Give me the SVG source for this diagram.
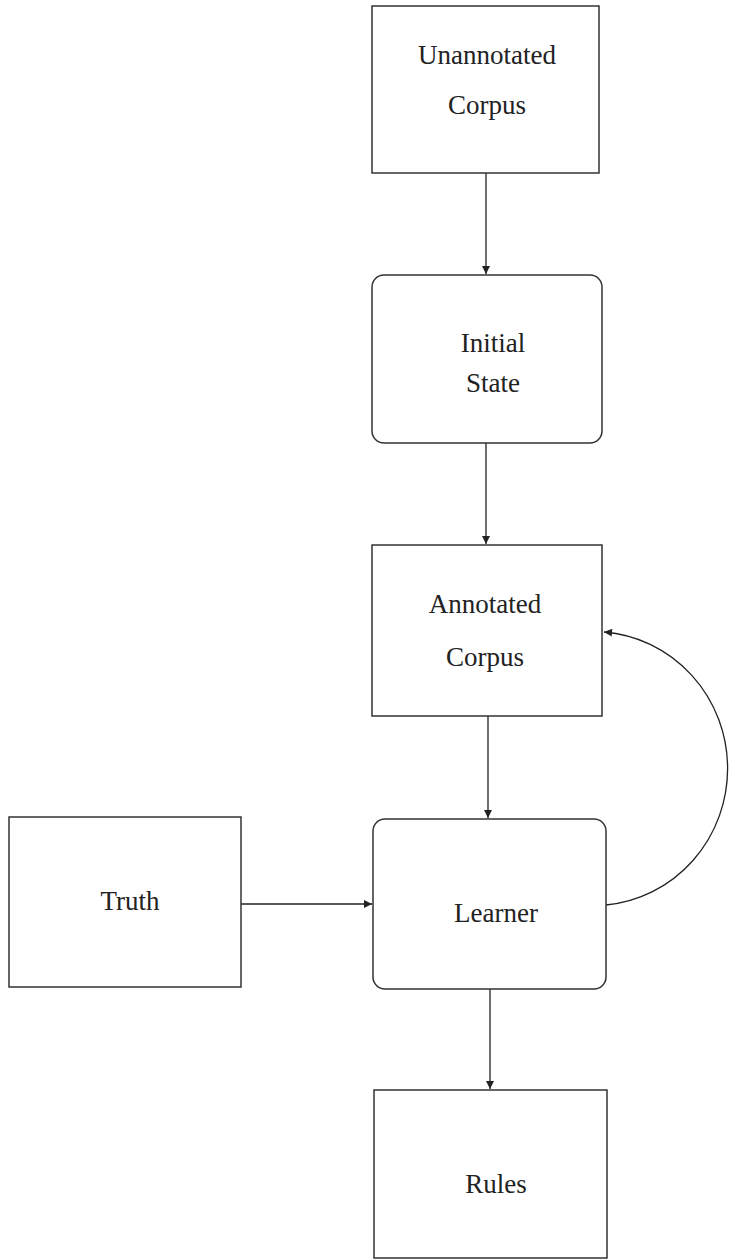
<svg xmlns="http://www.w3.org/2000/svg" width="731" height="1260" viewBox="0 0 731 1260" font-family="Liberation Serif">
<style>
.box{fill:#fff;stroke:#333;stroke-width:1.5}
svg g[id] text.lbl{font-family:"Liberation Serif","Times New Roman",serif !important;font-size:27px;fill:#222;text-anchor:middle}
.edge{fill:none;stroke:#222;stroke-width:1.3}
</style>
<defs>
<marker id="arr" viewBox="0 0 10 10" refX="10" refY="5" markerWidth="10" markerHeight="8" markerUnits="userSpaceOnUse" orient="auto">
<path d="M0,0 L10,5 L0,10 z" fill="#222"/>
</marker>
</defs>
<rect width="731" height="1260" fill="#fff"/>
<g id="connectors">
<line class="edge" x1="486" y1="173" x2="486" y2="274" marker-end="url(#arr)"/>
<line class="edge" x1="486" y1="443" x2="486" y2="544" marker-end="url(#arr)"/>
<line class="edge" x1="488" y1="716" x2="488" y2="818" marker-end="url(#arr)"/>
<line class="edge" x1="241" y1="904" x2="372" y2="904" marker-end="url(#arr)"/>
<line class="edge" x1="490" y1="989" x2="490" y2="1089" marker-end="url(#arr)"/>
<path class="edge" d="M606,905 A134 137 0 0 0 604,632" marker-end="url(#arr)"/>
</g>
<g id="unannotated-corpus">
<rect class="box" x="372" y="6" width="227" height="167"/>
<text class="lbl" x="487" y="64" font-family="Liberation Serif">Unannotated</text>
<text class="lbl" x="487" y="114" font-family="Liberation Serif">Corpus</text>
</g>
<g id="initial-state">
<rect class="box" x="372" y="275" width="230" height="168" rx="12"/>
<text class="lbl" x="493" y="352" font-family="Liberation Serif">Initial</text>
<text class="lbl" x="493" y="392" font-family="Liberation Serif">State</text>
</g>
<g id="annotated-corpus">
<rect class="box" x="372" y="545" width="230" height="171"/>
<text class="lbl" x="485" y="613" font-family="Liberation Serif">Annotated</text>
<text class="lbl" x="485" y="666" font-family="Liberation Serif">Corpus</text>
</g>
<g id="truth">
<rect class="box" x="9" y="817" width="232" height="170"/>
<text class="lbl" x="130" y="910" font-family="Liberation Serif">Truth</text>
</g>
<g id="learner">
<rect class="box" x="373" y="819" width="233" height="170" rx="12"/>
<text class="lbl" x="496" y="922" font-family="Liberation Serif">Learner</text>
</g>
<g id="rules">
<rect class="box" x="374" y="1090" width="233" height="168"/>
<text class="lbl" x="496" y="1193" font-family="Liberation Serif">Rules</text>
</g>
</svg>
